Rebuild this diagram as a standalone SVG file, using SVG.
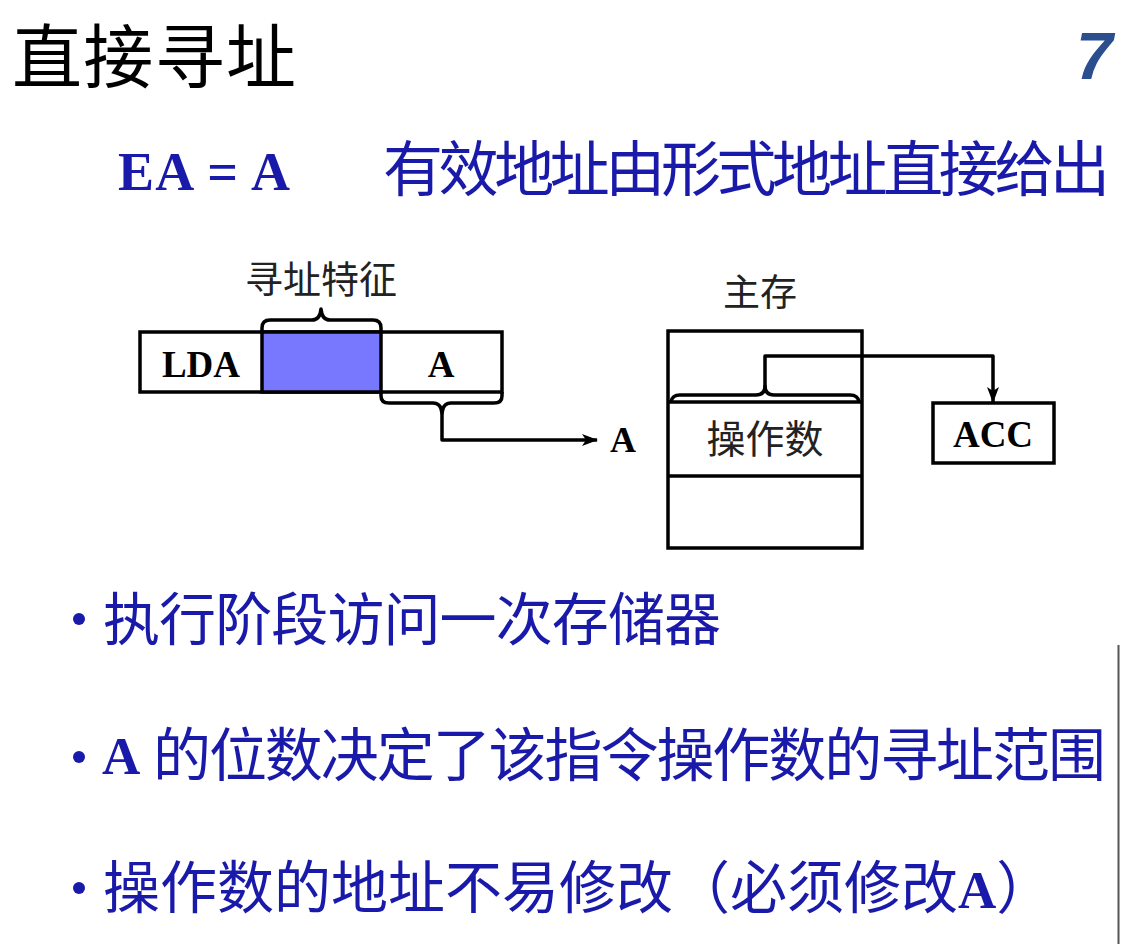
<svg xmlns="http://www.w3.org/2000/svg" width="1121" height="944" viewBox="0 0 1121 944">
<style>
.cjk{font-family:"Noto Sans CJK SC","Noto Sans CJK JP",sans-serif;}
.ser{font-family:"Liberation Serif","Times New Roman",serif;font-weight:bold;}
.blue{fill:#1a1aaa;}
.box{fill:#fff;stroke:#000;stroke-width:3.5;}
.ln{fill:none;stroke:#000;stroke-width:3.5;stroke-linejoin:round;}
</style>
<defs>
<marker id="arr" viewBox="0 0 16 12" refX="15" refY="6" markerWidth="16" markerHeight="12" markerUnits="userSpaceOnUse" orient="auto">
<path d="M0,0 L16,6 L0,12 L4,6 Z" fill="#000"/>
</marker>
</defs>
<rect width="1121" height="944" fill="#fff"/>

<g id="title">
<text class="cjk" x="12" y="83" font-size="70" fill="#000" textLength="284">直接寻址</text>
<text x="1076" y="79" font-family="Liberation Sans, Arial, sans-serif" font-weight="bold" font-style="italic" font-size="66" fill="#2b4f8e">7</text>
</g>

<g id="subtitle">
<text class="ser blue" x="118" y="190" font-size="54" textLength="172">EA = A</text>
<text class="cjk blue" x="383" y="191" font-size="60" textLength="727">有效地址由形式地址直接给出</text>
</g>

<g id="instruction">
<rect class="box" x="140" y="332" width="362" height="60"/>
<rect x="262" y="332" width="119" height="60" fill="#7878ff" stroke="#000" stroke-width="3.5"/>
<text class="ser" x="201" y="377" font-size="37" text-anchor="middle">LDA</text>
<text class="ser" x="441" y="377" font-size="37" text-anchor="middle">A</text>
</g>

<g id="label-feature">
<text class="cjk" x="321" y="293" font-size="38" text-anchor="middle" fill="#222">寻址特征</text>
</g>

<g id="memory">
<text class="cjk" x="760" y="306" font-size="37" text-anchor="middle" fill="#222">主存</text>
<rect class="box" x="668" y="331" width="194" height="217"/>
<line x1="668" y1="402" x2="862" y2="402" stroke="#000" stroke-width="3.5"/>
<line x1="668" y1="476" x2="862" y2="476" stroke="#000" stroke-width="3.5"/>
<text class="cjk" x="765" y="453" font-size="39" text-anchor="middle" fill="#222">操作数</text>
</g>

<g id="acc">
<rect class="box" x="933" y="403" width="121" height="60"/>
<text class="ser" x="993" y="447" font-size="37" text-anchor="middle">ACC</text>
</g>

<g id="label-a">
<text class="ser" x="610" y="452" font-size="36">A</text>
</g>

<g id="connectors">
<path class="ln" d="M262,332 L262,328 Q262,320 270,320 L312,320 Q320,320 321,309 Q322,320 330,320 L373,320 Q381,320 381,328 L381,332"/>
<path class="ln" d="M381,392 L381,396 Q381,403 389,403 L433,403 Q441,403 442,413 Q443,403 451,403 L494,403 Q502,403 502,396 L502,392"/>
<path class="ln" d="M442,411 L442,440 L597,440" marker-end="url(#arr)"/>
<path class="ln" d="M671,402 Q672,395 680,395 L756,395 Q765,395 765,386 Q765,395 774,395 L850,395 Q858,395 859,402"/>
<path class="ln" d="M765,388 L765,356 L993,356 L993,402" marker-end="url(#arr)"/>
</g>

<g id="bullets">
<circle cx="79" cy="619" r="6" fill="#1a1aaa"/>
<text class="cjk blue" x="103" y="640" font-size="57" textLength="618">执行阶段访问一次存储器</text>

<circle cx="79" cy="757" r="6" fill="#1a1aaa"/>
<text class="ser blue" x="102" y="774" font-size="53">A</text>
<text class="cjk blue" x="153" y="776" font-size="58" textLength="953">的位数决定了该指令操作数的寻址范围</text>

<circle cx="79" cy="888" r="6" fill="#1a1aaa"/>
<text class="blue" x="103" y="908" font-size="57"><tspan class="cjk">操作数的地址不易修改（必须修改</tspan><tspan class="ser" font-size="53">A</tspan><tspan class="cjk">）</tspan></text>
</g>

<line x1="1118.5" y1="645" x2="1118.5" y2="944" stroke="#555" stroke-width="2"/>
</svg>
